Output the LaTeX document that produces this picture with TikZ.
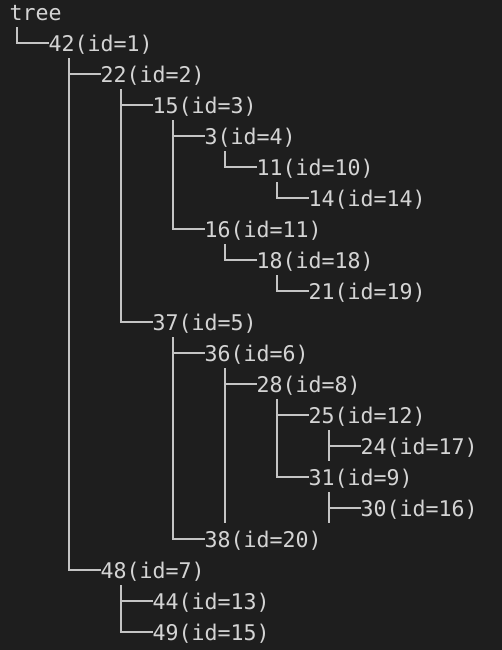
\documentclass[tikz,border=0pt]{standalone}
\usepackage{fontspec}
\newfontfamily\treemono{DejaVu Sans Mono}
\definecolor{termbg}{HTML}{1E1E1E}
\definecolor{termtext}{HTML}{D4D4D4}
\definecolor{termline}{HTML}{C4C4C4}

\begin{document}
\begin{tikzpicture}[
    x=1pt, y=-1pt,
    key/.style={anchor=west, inner sep=0pt, text height=24.7pt, text depth=6.3pt,
        text=termtext, font={\treemono\fontsize{21.6pt}{31pt}\selectfont}},
    tree line/.style={draw=termline, line width=1.7pt},
    elbow/.style={to path={|- (\tikztotarget)}},
]
\fill[termbg] (0,0) rectangle (502,650);
\useasboundingbox (0,0) rectangle (502,650);

\node[key] (k-tree) at (9.5,11.7) {tree};
\node[key] (k-42) at (48.5,42.7) {42(id=1)};
\node[key] (k-22) at (100.5,73.7) {22(id=2)};
\node[key] (k-15) at (152.5,104.7) {15(id=3)};
\node[key] (k-3) at (204.5,135.7) {3(id=4)};
\node[key] (k-11) at (256.5,166.7) {11(id=10)};
\node[key] (k-14) at (308.5,197.7) {14(id=14)};
\node[key] (k-16) at (204.5,228.7) {16(id=11)};
\node[key] (k-18) at (256.5,259.7) {18(id=18)};
\node[key] (k-21) at (308.5,290.7) {21(id=19)};
\node[key] (k-37) at (152.5,321.7) {37(id=5)};
\node[key] (k-36) at (204.5,352.7) {36(id=6)};
\node[key] (k-28) at (256.5,383.7) {28(id=8)};
\node[key] (k-25) at (308.5,414.7) {25(id=12)};
\node[key] (k-24) at (360.5,445.7) {24(id=17)};
\node[key] (k-31) at (308.5,476.7) {31(id=9)};
\node[key] (k-30) at (360.5,507.7) {30(id=16)};
\node[key] (k-38) at (204.5,538.7) {38(id=20)};
\node[key] (k-48) at (100.5,569.7) {48(id=7)};
\node[key] (k-44) at (152.5,600.7) {44(id=13)};
\node[key] (k-49) at (152.5,631.7) {49(id=15)};

\path[tree line]
    ([xshift=7.3pt]k-tree.south west) edge[elbow] (k-42.west)
    ([xshift=20.3pt]k-42.south west) edge[elbow] (k-22.west)
    ([xshift=20.3pt]k-42.south west) edge[elbow] (k-48.west)
    ([xshift=20.3pt]k-22.south west) edge[elbow] (k-15.west)
    ([xshift=20.3pt]k-22.south west) edge[elbow] (k-37.west)
    ([xshift=20.3pt]k-15.south west) edge[elbow] (k-3.west)
    ([xshift=20.3pt]k-15.south west) edge[elbow] (k-16.west)
    ([xshift=20.3pt]k-3.south west) edge[elbow] (k-11.west)
    ([xshift=20.3pt]k-11.south west) edge[elbow] (k-14.west)
    ([xshift=20.3pt]k-16.south west) edge[elbow] (k-18.west)
    ([xshift=20.3pt]k-18.south west) edge[elbow] (k-21.west)
    ([xshift=20.3pt]k-37.south west) edge[elbow] (k-36.west)
    ([xshift=20.3pt]k-37.south west) edge[elbow] (k-38.west)
    ([xshift=20.3pt]k-36.south west) edge[elbow] (k-28.west)
    ([xshift=20.3pt]k-28.south west) edge[elbow] (k-25.west)
    ([xshift=20.3pt]k-28.south west) edge[elbow] (k-31.west)
    ([xshift=20.3pt]k-25.south west) edge[elbow] (k-24.west)
    ([xshift=20.3pt]k-31.south west) edge[elbow] (k-30.west)
    ([xshift=20.3pt]k-48.south west) edge[elbow] (k-44.west)
    ([xshift=20.3pt]k-48.south west) edge[elbow] (k-49.west)
;
% left children with no sibling run on to the end of their subtree
\path[tree line]
    ([xshift=20.3pt]k-36.south west) edge ([xshift=20.3pt]k-36.south west |- k-30.south)
    ([xshift=20.3pt]k-25.south west) edge ([xshift=20.3pt]k-25.south west |- k-24.south)
    ([xshift=20.3pt]k-31.south west) edge ([xshift=20.3pt]k-31.south west |- k-30.south)
;
\end{tikzpicture}
\end{document}
